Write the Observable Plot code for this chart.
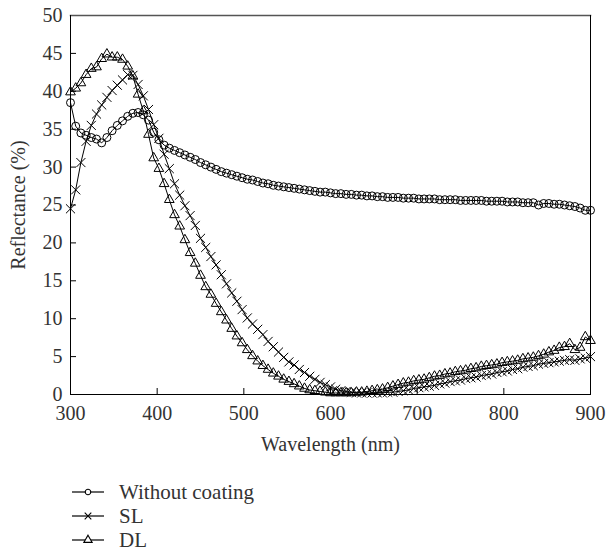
<!DOCTYPE html>
<html>
<head>
<meta charset="utf-8">
<script src="https://cdn.jsdelivr.net/npm/d3@7"></script>
<script src="https://cdn.jsdelivr.net/npm/@observablehq/plot@0.6"></script>
<style>
  body { margin: 0; background: #fff; font-family: "Liberation Serif", "DejaVu Serif", serif; }
  #chart svg text { font-family: "Liberation Serif", "DejaVu Serif", serif; font-size: 20px; fill: #333; }
  #legend { margin: 20px 0 0 71px; color: #333; font-size: 21px; }
  #legend .row { display: flex; align-items: center; height: 24px; }
  #legend svg { margin-right: 14px; }
</style>
</head>
<body>
<div id="chart"></div>
<div id="legend"></div>
<script>
// Reflectance spectra sampled every 6 nm from 300 to 900 nm
const wavelength = d3.range(300, 901, 6);

const withoutCoating = [
  38.5, 35.4, 34.5, 34.2, 33.9, 33.7, 33.2, 33.9, 34.8, 35.5,
  36.1, 36.7, 37.1, 37.2, 36.9, 36.2, 34.6, 33.6, 32.9, 32.5,
  32.2, 31.9, 31.6, 31.3, 31.0, 30.6, 30.3, 30.0, 29.7, 29.4,
  29.2, 29.0, 28.8, 28.6, 28.4, 28.3, 28.1, 27.9, 27.8, 27.6,
  27.5, 27.4, 27.3, 27.2, 27.1, 27.0, 26.9, 26.8, 26.7, 26.7,
  26.6, 26.5, 26.5, 26.4, 26.4, 26.3, 26.3, 26.2, 26.2, 26.1,
  26.1, 26.0, 26.0, 26.0, 25.9, 25.9, 25.9, 25.8, 25.8, 25.8,
  25.8, 25.7, 25.7, 25.7, 25.7, 25.6, 25.6, 25.6, 25.6, 25.6,
  25.5, 25.5, 25.5, 25.5, 25.4, 25.4, 25.4, 25.3, 25.3, 25.3,
  25.0, 25.2, 25.2, 25.1, 25.1, 25.0, 24.9, 24.8, 24.6, 24.3,
  24.3
];

const sl = [
  24.5, 27.0, 30.6, 33.4, 35.5, 37.0, 38.2, 39.2, 40.1, 40.8,
  41.5, 42.2, 42.1, 40.9, 39.4, 37.6, 35.6, 33.8, 31.7, 29.8,
  27.8, 26.3, 24.9, 23.6, 22.3, 20.6, 19.4, 18.2, 17.1, 15.8,
  14.6, 13.4, 12.3, 11.2, 10.1, 9.3, 8.6, 7.9, 7.0, 6.3,
  5.6, 4.9, 4.3, 3.9, 3.3, 2.9, 2.4, 2.0, 1.6, 1.3,
  1.0, 0.7, 0.5, 0.4, 0.3, 0.2, 0.2, 0.2, 0.2, 0.2,
  0.2, 0.3, 0.3, 0.4, 0.5, 0.6, 0.8, 0.9, 1.0, 1.1,
  1.2, 1.4, 1.5, 1.7, 1.8, 1.9, 2.1, 2.2, 2.3, 2.5,
  2.6, 2.7, 2.9, 3.0, 3.1, 3.3, 3.4, 3.6, 3.7, 3.8,
  4.0, 4.1, 4.2, 4.3, 4.4, 4.5, 4.6, 4.5, 4.7, 4.8,
  5.0
];

const dl = [
  39.9, 40.4, 41.1, 42.2, 43.0, 43.2, 44.3, 44.9, 44.5, 44.5,
  44.2, 43.3, 42.0, 39.6, 37.4, 34.3, 31.2, 29.8, 27.8, 25.7,
  23.7, 22.2, 20.4, 18.7, 17.3, 15.7, 14.2, 13.2, 12.0, 10.9,
  9.8, 8.7, 7.7, 6.8, 5.9, 5.1, 4.4, 3.8, 3.3, 2.8,
  2.4, 2.0, 1.7, 1.4, 1.1, 0.8, 0.6, 0.5, 0.4, 0.3,
  0.2, 0.2, 0.2, 0.2, 0.2, 0.3, 0.3, 0.4, 0.5, 0.6,
  0.7, 0.9, 1.1, 1.3, 1.5, 1.6, 1.8, 1.9, 2.0, 2.2,
  2.4, 2.5, 2.7, 2.8, 3.0, 3.1, 3.2, 3.4, 3.5, 3.7,
  3.8, 3.9, 4.0, 4.2, 4.3, 4.4, 4.5, 4.7, 4.8, 4.9,
  5.1, 5.3, 5.6, 5.8, 6.2, 6.3, 6.7, 5.9, 6.2, 7.6,
  7.1
];

const seriesNames = ["Without coating", "SL", "DL"];
const seriesSymbols = ["circle", "times", "triangle"];
const xTicks = [300, 400, 500, 600, 700, 800, 900];
const yTicks = [0, 5, 10, 15, 20, 25, 30, 35, 40, 45, 50];

const seriesValues = [withoutCoating, sl, dl];
const series = seriesNames.map((name, i) => ({
  name,
  symbol: seriesSymbols[i],
  rows: seriesValues[i].map((v, j) => ({nm: wavelength[j], r: v}))
}));

const symbolRadius = {circle: 4, times: 4.2, triangle: 3.6};

const chart = Plot.plot({
  width: 606,
  height: 460,
  marginLeft: 70,
  marginRight: 16,
  marginTop: 15,
  marginBottom: 66,
  style: {fontFamily: "'Liberation Serif', 'DejaVu Serif', serif", fontSize: "20px", color: "#333", background: "#fff"},
  x: {domain: [300, 900]},
  y: {domain: [0, 50]},
  marks: [
    Plot.axisX({ticks: xTicks, tickSize: -6, tickPadding: 17, label: "Wavelength (nm)",
      labelAnchor: "center", labelArrow: "none", labelOffset: 56, stroke: "black"}),
    Plot.axisY({ticks: yTicks, tickSize: -6, tickPadding: 14, label: "Reflectance (%)",
      labelAnchor: "center", labelArrow: "none", labelOffset: 60, stroke: "black"}),
    Plot.frame({anchor: "top", stroke: "#555", strokeWidth: 1.5}),
    Plot.frame({anchor: "right", stroke: "black"}),
    Plot.frame({anchor: "bottom", stroke: "black"}),
    Plot.frame({anchor: "left", stroke: "black"}),
    ...series.map(s => Plot.line(s.rows, {x: "nm", y: "r", stroke: "black", strokeWidth: 1})),
    ...series.map(s => Plot.dot(s.rows, {x: "nm", y: "r", symbol: () => s.symbol, r: symbolRadius[s.symbol],
      stroke: "black", fill: "none", strokeWidth: 1}))
  ]
});
document.getElementById("chart").appendChild(chart);

// Legend: a short line with the series symbol, then the name
const legend = d3.select("#legend");
series.forEach(s => {
  const row = legend.append("div").attr("class", "row");
  const svg = row.append("svg").attr("width", 34).attr("height", 14);
  svg.append("line").attr("x1", 1).attr("x2", 33).attr("y1", 7).attr("y2", 7)
    .attr("stroke", "black").attr("stroke-width", 1.2);
  const sym = {circle: d3.symbolCircle, times: d3.symbolTimes, triangle: d3.symbolTriangle}[s.symbol];
  svg.append("path").attr("transform", "translate(17,7)")
    .attr("d", d3.symbol(sym, s.symbol === "circle" ? 24 : 30)())
    .attr("fill", s.symbol === "times" ? "none" : "white").attr("stroke", "black").attr("stroke-width", 1.1);
  row.append("span").text(s.name);
});
</script>
</body>
</html>
